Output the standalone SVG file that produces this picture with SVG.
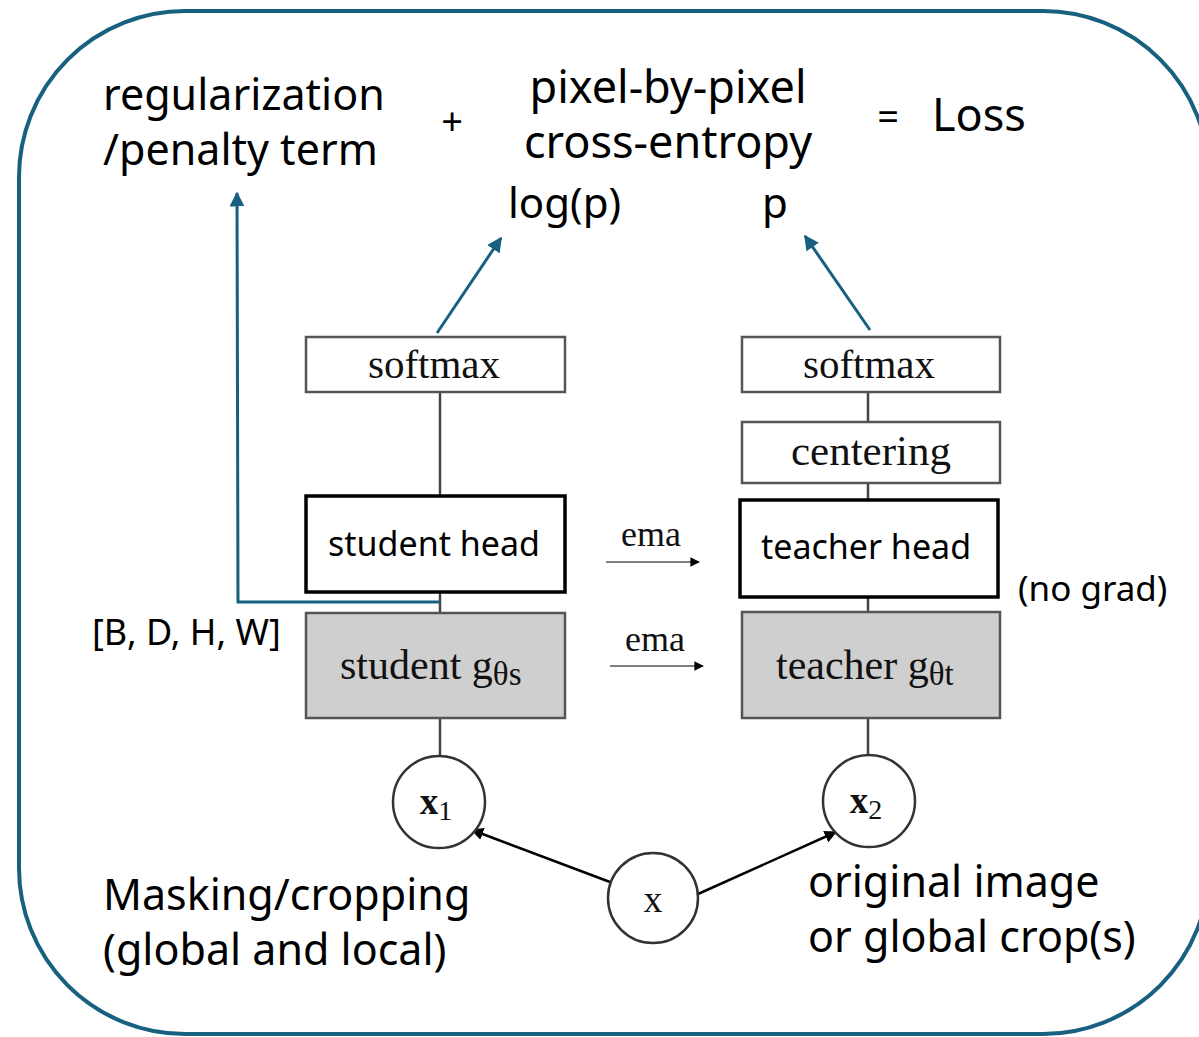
<svg xmlns="http://www.w3.org/2000/svg" width="1199" height="1037" viewBox="0 0 1199 1037">
<defs>
<style>
.sans{font-family:"Noto Sans","Open Sans",sans-serif;fill:#000}
.serif{font-family:"Liberation Serif","Times New Roman",serif;fill:#111}
.box{fill:#fff;stroke:#555;stroke-width:2.5}
.head{fill:#fff;stroke:#000;stroke-width:3.5}
.gbox{fill:#d0cfd0;stroke:#555;stroke-width:2.5}
.circ{fill:#fff;stroke:#333;stroke-width:2.5}
.gl{stroke:#444;stroke-width:2.5;fill:none}
.bl{stroke:#17607f;stroke-width:3;fill:none}
.kl{stroke:#000;stroke-width:2.5;fill:none}
</style>
<marker id="ab" viewBox="0 0 10 10" refX="9" refY="5" markerWidth="5" markerHeight="5" orient="auto" markerUnits="strokeWidth"><path d="M0,0 L10,5 L0,10 z" fill="#17607f"/></marker>
<marker id="ak" viewBox="0 0 10 10" refX="9" refY="5" markerWidth="5" markerHeight="5" orient="auto" markerUnits="strokeWidth"><path d="M0,0 L10,5 L0,10 z" fill="#000"/></marker>
<marker id="as" viewBox="0 0 10 10" refX="9" refY="5" markerWidth="8" markerHeight="8" orient="auto" markerUnits="strokeWidth"><path d="M0,0 L10,5 L0,10 z" fill="#000"/></marker>
</defs>
<rect x="0" y="0" width="1199" height="1037" fill="#fff"/>
<rect id="frame" x="19" y="11" width="1190" height="1023" rx="166" ry="166" fill="none" stroke="#17607f" stroke-width="4"/>

<g id="connectors">
<line class="gl" x1="440" y1="392" x2="440" y2="496"/>
<line class="gl" x1="440" y1="592" x2="440" y2="613"/>
<line class="gl" x1="440" y1="718" x2="440" y2="756"/>
<line class="gl" x1="868" y1="392" x2="868" y2="422"/>
<line class="gl" x1="868" y1="483" x2="868" y2="500"/>
<line class="gl" x1="868" y1="597" x2="868" y2="612"/>
<line class="gl" x1="868" y1="718" x2="868" y2="755"/>
<line class="bl" x1="437" y1="333" x2="501" y2="238" marker-end="url(#ab)"/>
<line class="bl" x1="870" y1="330" x2="805" y2="236" marker-end="url(#ab)"/>
<polyline class="bl" points="440,602 238,602 237,193" marker-end="url(#ab)"/>
<line class="kl" x1="610" y1="882" x2="472" y2="830" marker-end="url(#ak)"/>
<line class="kl" x1="698" y1="894" x2="836" y2="832" marker-end="url(#ak)"/>
<line stroke="#000" stroke-width="1.2" x1="606" y1="562" x2="699" y2="562" marker-end="url(#as)"/>
<line stroke="#000" stroke-width="1.2" x1="610" y1="666" x2="703" y2="666" marker-end="url(#as)"/>
</g>

<g id="student-softmax"><rect class="box" x="306" y="337" width="259" height="55"/><text class="serif" x="434" y="378" font-size="41" text-anchor="middle">softmax</text></g>
<g id="student-head"><rect class="head" x="306" y="496" width="259" height="96"/><text class="sans" x="434" y="556" font-size="34" text-anchor="middle">student head</text></g>
<g id="student-g"><rect class="gbox" x="306" y="613" width="259" height="105"/><text class="serif" x="340" y="679" font-size="42">student g<tspan font-size="33" dy="6">θs</tspan></text></g>
<g id="x1"><circle class="circ" cx="439" cy="802" r="46"/><text class="serif" x="436" y="814" font-size="37" font-weight="bold" text-anchor="middle">x<tspan font-size="28" font-weight="normal" dy="6">1</tspan></text></g>

<g id="teacher-softmax"><rect class="box" x="742" y="337" width="258" height="55"/><text class="serif" x="869" y="378" font-size="41" text-anchor="middle">softmax</text></g>
<g id="centering"><rect class="box" x="742" y="422" width="258" height="61"/><text class="serif" x="871" y="465" font-size="43" text-anchor="middle">centering</text></g>
<g id="teacher-head"><rect class="head" x="740" y="500" width="258" height="97"/><text class="sans" x="866" y="559" font-size="34" text-anchor="middle">teacher head</text></g>
<g id="teacher-g"><rect class="gbox" x="742" y="612" width="258" height="106"/><text class="serif" x="776" y="679" font-size="42">teacher g<tspan font-size="33" dy="6">θt</tspan></text></g>
<g id="x2"><circle class="circ" cx="869" cy="801" r="46"/><text class="serif" x="866" y="813" font-size="37" font-weight="bold" text-anchor="middle">x<tspan font-size="28" font-weight="normal" dy="6">2</tspan></text></g>

<g id="x"><circle class="circ" cx="653" cy="898" r="45"/><text class="serif" x="653" y="912" font-size="38" text-anchor="middle">x</text></g>

<g id="labels">
<text class="serif" x="651" y="546" font-size="36" text-anchor="middle">ema</text>
<text class="serif" x="655" y="651" font-size="36" text-anchor="middle">ema</text>
<text class="sans" x="1018" y="601" font-size="35">(no grad)</text>
<text class="sans" x="92" y="645" font-size="36">[B, D, H, W]</text>
<text class="sans" x="103" y="110" font-size="43">regularization</text>
<text class="sans" x="103" y="165" font-size="43">/penalty term</text>
<text class="sans" x="452" y="135" font-size="38" text-anchor="middle">+</text>
<text class="sans" x="668" y="103" font-size="45" text-anchor="middle">pixel-by-pixel</text>
<text class="sans" x="668" y="158" font-size="45" text-anchor="middle">cross-entropy</text>
<text class="sans" x="888" y="130" font-size="38" text-anchor="middle">=</text>
<text class="sans" x="932" y="131" font-size="45">Loss</text>
<text class="sans" x="508" y="218" font-size="42">log(p)</text>
<text class="sans" x="762" y="218" font-size="42">p</text>
<text class="sans" x="103" y="910" font-size="43">Masking/cropping</text>
<text class="sans" x="103" y="965" font-size="43">(global and local)</text>
<text class="sans" x="808" y="897" font-size="43">original image</text>
<text class="sans" x="808" y="952" font-size="43">or global crop(s)</text>
</g>
</svg>
